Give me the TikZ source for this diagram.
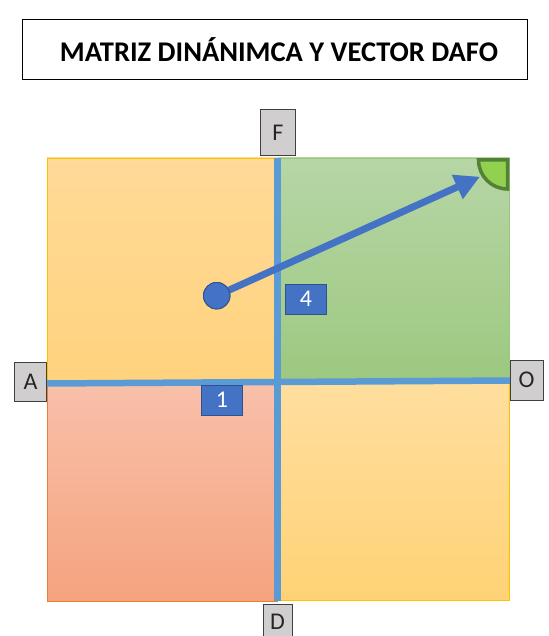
\documentclass[tikz,border=0pt]{standalone}
\usepackage{fontspec}
\setmainfont{Carlito}
\usetikzlibrary{arrows.meta}
\definecolor{tlA}{RGB}{255,218,152}
\definecolor{tlB}{RGB}{255,210,125}
\definecolor{trA}{RGB}{182,214,166}
\definecolor{trB}{RGB}{157,200,128}
\definecolor{blA}{RGB}{248,192,170}
\definecolor{blB}{RGB}{245,163,126}
\definecolor{brA}{RGB}{255,222,158}
\definecolor{brB}{RGB}{255,210,118}
\definecolor{gold}{RGB}{255,192,0}
\definecolor{orng}{RGB}{237,125,49}
\definecolor{grn}{RGB}{112,173,71}
\definecolor{axisblue}{RGB}{91,155,213}
\definecolor{vecblue}{RGB}{68,114,196}
\definecolor{darkblue}{RGB}{47,82,143}
\definecolor{lblgray}{RGB}{208,206,206}
\definecolor{litegreen}{RGB}{146,208,80}
\definecolor{darkgreen}{RGB}{83,129,53}
\tikzset{
  letterbox/.style={draw=black!75, line width=0.8pt, fill=lblgray, font=\fontsize{24}{28}\selectfont, text=black!85, inner sep=0pt},
  numbox/.style={draw=darkblue, line width=0.9pt, fill=vecblue, text=white, font=\fontsize{24}{28}\selectfont, inner sep=0pt, minimum width=41pt, minimum height=30pt},
  axisline/.style={draw=axisblue, line width=6.5pt},
}
\begin{document}
\begin{tikzpicture}[x=1pt,y=-1pt]
\useasboundingbox (0,0) rectangle (548,636);
\fill[white] (0,0) rectangle (548,636);
% title
\node[draw=black, line width=1pt, minimum width=505pt, minimum height=60pt, inner sep=0pt] (title) at (274.5,50) {};
\node[font=\fontsize{28.5}{32}\selectfont\bfseries, inner sep=0pt] (titletext) at (279,50) {MATRIZ DINÁNIMCA Y VECTOR DAFO};
% quadrants
\shade[top color=tlA, bottom color=tlB] (47,158) rectangle (277.5,382);
\draw[gold, line width=0.8pt] (47,382) -- (47,158) -- (277.5,158);
\shade[top color=trA, bottom color=trB] (277.5,158) rectangle (509.5,381);
\draw[grn!70, line width=0.8pt] (277.5,158) -- (509.5,158) -- (509.5,381);
\shade[top color=blA, bottom color=blB] (47,382) rectangle (277.5,601);
\draw[orng, line width=0.8pt] (47,382) -- (47,601) -- (277.5,601);
\shade[top color=brA, bottom color=brB] (277.5,381) rectangle (509.5,600.5);
\draw[gold, line width=0.8pt] (277.5,600.5) -- (509.5,600.5) -- (509.5,381);
% corner quarter circle
\filldraw[fill=litegreen, draw=darkgreen, line width=3.5pt] (507.5,160) -- (478.5,160) arc[start angle=180, end angle=90, radius=29] -- cycle;
% axes
\coordinate (hl) at (47,383.5);
\coordinate (hr) at (510,380.5);
\coordinate (vt) at (277.5,158);
\coordinate (vb) at (277.5,601);
\draw[axisline] (hl) -- (hr);
\draw[axisline] (vt) -- (vb);
% labels on axes
\node[letterbox, minimum width=35pt, minimum height=46pt] (F) at (278,132.5) {F};
\node[letterbox, minimum width=32pt, minimum height=39pt] (A) at (30.5,381.5) {A};
\node[letterbox, minimum width=33pt, minimum height=40pt] (O) at (526.5,380) {O};
\node[letterbox, minimum width=29pt, minimum height=40pt, anchor=north] (D) at (277.5,604) {};
\node[font=\fontsize{24}{28}\selectfont, text=black!85, inner sep=0pt] (Dtext) at (277.5,622) {D};
% numbers
\node[numbox] (n4) at (306,299) {4};
\node[numbox] (n1) at (222,400) {1};
% vector
\node[circle, fill=vecblue, draw=darkblue, line width=0.9pt, minimum size=26.5pt, inner sep=0pt] (start) at (216.7,295.7) {};
\coordinate (tip) at (480,176.7);
\draw[vecblue, line width=7pt, -{Triangle[length=25pt, width=25pt]}] (start.center) -- (tip);
\node[circle, fill=vecblue, draw=darkblue, line width=0.9pt, minimum size=26.5pt, inner sep=0pt] at (start) {};
\end{tikzpicture}
\end{document}
